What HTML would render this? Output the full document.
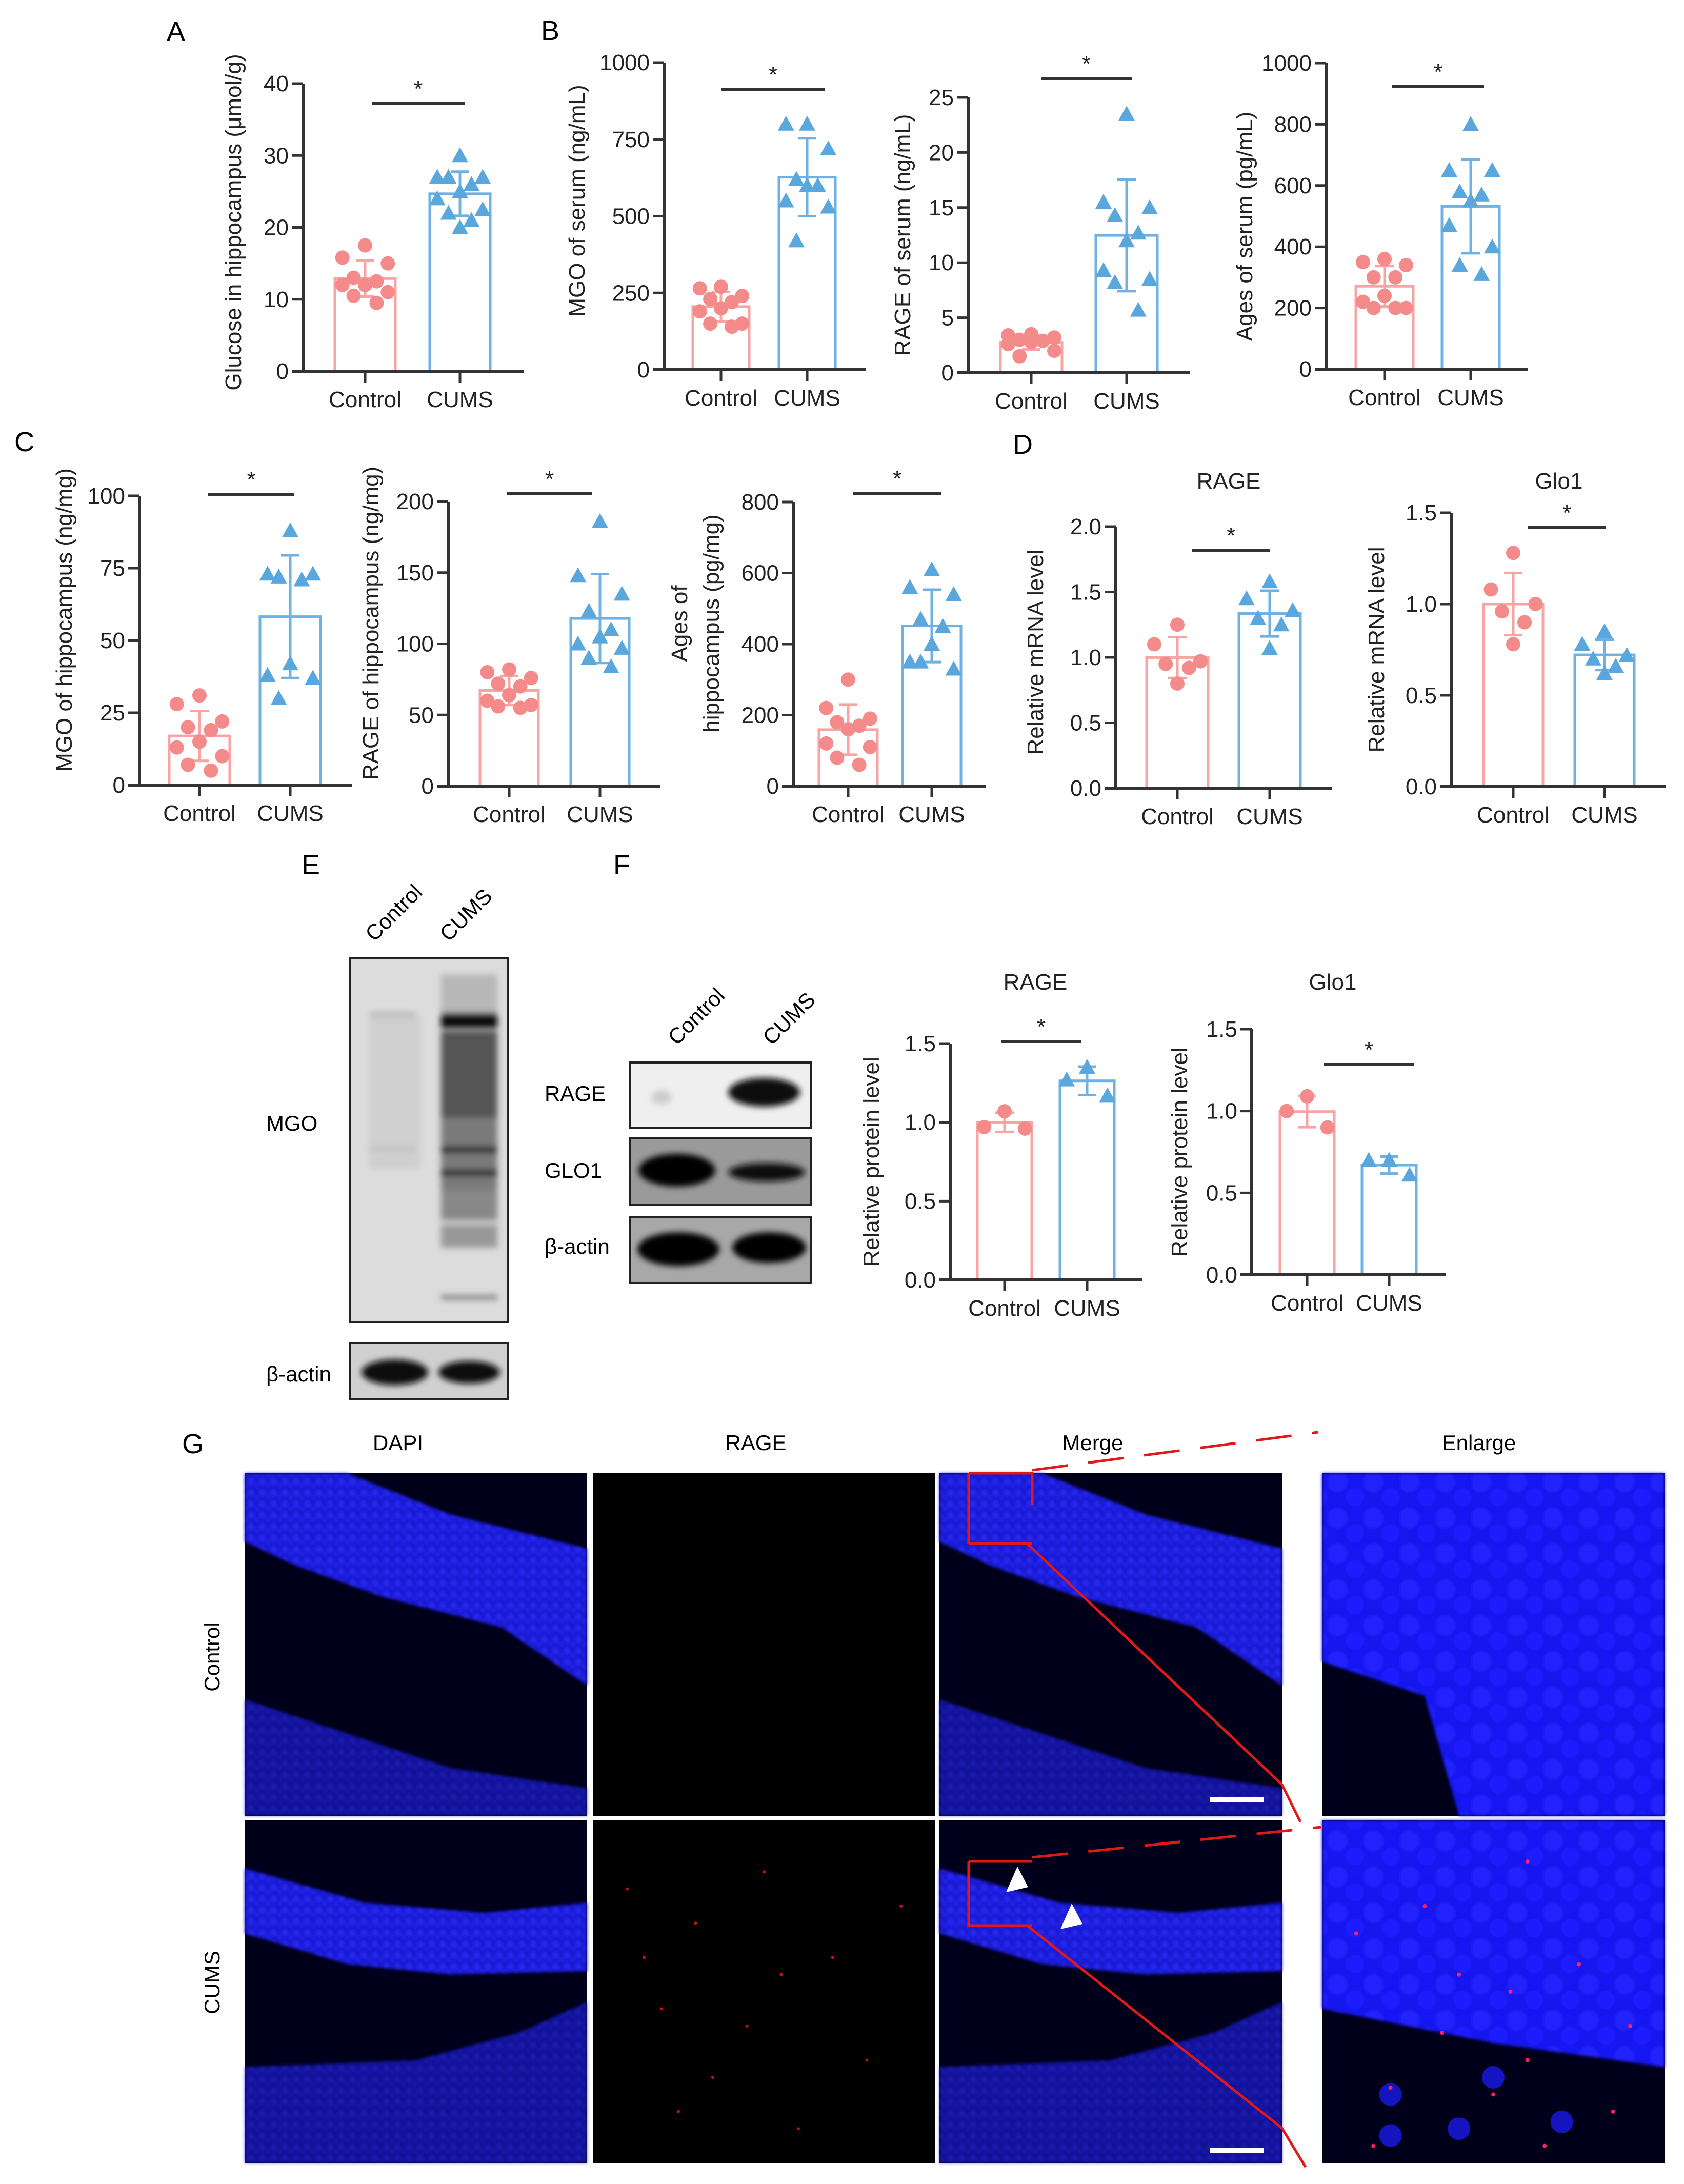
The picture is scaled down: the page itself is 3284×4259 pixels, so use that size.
<!DOCTYPE html>
<html><head><meta charset="utf-8">
<style>
html,body{margin:0;padding:0;background:#fff;}
svg{display:block;font-family:"Liberation Sans",Arial,sans-serif;}
</style></head>
<body>
<svg id="fig" xmlns="http://www.w3.org/2000/svg" width="3284" height="4259" viewBox="0 0 3284 4259">
<defs>
<filter id="blur6" x="-20%" y="-50%" width="140%" height="200%"><feGaussianBlur stdDeviation="6"/></filter>
<filter id="blur14" x="-20%" y="-20%" width="140%" height="140%"><feGaussianBlur stdDeviation="14"/></filter>
<filter id="blur3"><feGaussianBlur stdDeviation="3"/></filter>
<pattern id="nuclei" width="22" height="22" patternUnits="userSpaceOnUse"><rect width="22" height="22" fill="#1a1ae0"/><circle cx="6" cy="7" r="6" fill="#2a2aff"/><circle cx="17" cy="16" r="5" fill="#2222f5"/><rect x="12" y="0" width="3" height="5" fill="#0a0a90"/></pattern>
<pattern id="nucleiBig" width="70" height="70" patternUnits="userSpaceOnUse"><rect width="70" height="70" fill="#1212ee"/><circle cx="18" cy="20" r="20" fill="#2020ff"/><circle cx="52" cy="50" r="18" fill="#1c1cff"/><circle cx="55" cy="14" r="10" fill="#1818f8"/></pattern>
</defs>

<!-- Panel letters -->
<text x="325" y="80" font-size="54">A</text>
<text x="1055" y="78" font-size="54">B</text>
<text x="28" y="880" font-size="54">C</text>
<text x="1975" y="885" font-size="54">D</text>
<text x="588" y="1705" font-size="54">E</text>
<text x="1196" y="1705" font-size="54">F</text>
<text x="355" y="2834" font-size="54">G</text>

<g id="charts"></g>

<!-- Western blots E -->
<g>
  <text transform="translate(730,1838) rotate(-45)" font-size="42">Control</text>
  <text transform="translate(875,1838) rotate(-45)" font-size="42">CUMS</text>
  <rect x="682" y="1869" width="308" height="709" fill="#dcdcdc" stroke="#222" stroke-width="4"/>
  <g filter="url(#blur6)">
    <rect x="720" y="1980" width="100" height="300" fill="#cfcfcf"/>
    <rect x="860" y="1900" width="110" height="80" fill="#b8b8b8"/>
    <rect x="860" y="1975" width="110" height="30" fill="#111"/>
    <rect x="860" y="2010" width="110" height="170" fill="#555"/>
    <rect x="860" y="2180" width="110" height="140" fill="#7a7a7a"/>
    <rect x="860" y="2235" width="110" height="14" fill="#333"/>
    <rect x="860" y="2280" width="110" height="14" fill="#333"/>
    <rect x="860" y="2320" width="110" height="60" fill="#888"/>
    <rect x="860" y="2388" width="110" height="45" fill="#999"/>
    <rect x="860" y="2526" width="110" height="8" fill="#777"/>
    <rect x="720" y="1975" width="90" height="6" fill="#aaa"/>
    <rect x="720" y="2237" width="90" height="6" fill="#bbb"/>
  </g>
  <text x="519" y="2205" font-size="42">MGO</text>
  <rect x="682" y="2619" width="308" height="110" fill="#d0d0d0" stroke="#222" stroke-width="4"/>
  <g filter="url(#blur6)">
    <ellipse cx="770" cy="2676" rx="65" ry="25" fill="#080808"/>
    <ellipse cx="915" cy="2676" rx="60" ry="22" fill="#080808"/>
  </g>
  <text x="519" y="2694" font-size="42">β-actin</text>
</g>

<!-- Western blots F -->
<g>
  <text transform="translate(1320,2040) rotate(-45)" font-size="42">Control</text>
  <text transform="translate(1505,2040) rotate(-45)" font-size="42">CUMS</text>
  <rect x="1229" y="2072" width="352" height="128" fill="#efefef" stroke="#222" stroke-width="4"/>
  <g filter="url(#blur6)"><ellipse cx="1490" cy="2130" rx="70" ry="28" fill="#0a0a0a"/><ellipse cx="1290" cy="2140" rx="20" ry="14" fill="#ccc"/></g>
  <text x="1062" y="2147" font-size="42">RAGE</text>
  <rect x="1229" y="2220" width="352" height="129" fill="#9a9a9a" stroke="#222" stroke-width="4"/>
  <g filter="url(#blur6)"><ellipse cx="1320" cy="2282" rx="75" ry="32" fill="#050505"/><ellipse cx="1495" cy="2286" rx="75" ry="18" fill="#101010"/></g>
  <text x="1062" y="2297" font-size="42">GLO1</text>
  <rect x="1229" y="2373" width="352" height="129" fill="#a8a8a8" stroke="#222" stroke-width="4"/>
  <g filter="url(#blur6)"><ellipse cx="1323" cy="2436" rx="80" ry="33" fill="#050505"/><ellipse cx="1500" cy="2433" rx="72" ry="30" fill="#050505"/></g>
  <text x="1062" y="2445" font-size="42">β-actin</text>
</g>

<!-- Panel G -->
<g>
  <text x="776" y="2828" font-size="42" text-anchor="middle">DAPI</text>
  <text x="1474" y="2828" font-size="42" text-anchor="middle">RAGE</text>
  <text x="2131" y="2828" font-size="42" text-anchor="middle">Merge</text>
  <text x="2884" y="2828" font-size="42" text-anchor="middle">Enlarge</text>
  <text transform="translate(428,3231) rotate(-90)" font-size="42" text-anchor="middle">Control</text>
  <text transform="translate(428,3866) rotate(-90)" font-size="42" text-anchor="middle">CUMS</text>
  <g id="micro"></g>
  <!-- overlays -->
  <g fill="none" stroke="#e01818" stroke-width="5">
    <path d="M1889 2873 H2013 V2935 M1889 2873 V3010 M1889 3010 H2013"/>
    <path d="M2013 2867 L2570 2793" stroke-dasharray="70 40"/>
    <path d="M2003 3010 L2500 3480 L2536 3553"/>
    <path d="M1889 3630 H2013 M1889 3630 V3755 H2013"/>
    <path d="M2013 3622 L2576 3563" stroke-dasharray="70 40"/>
    <path d="M2003 3755 L2500 4150 L2546 4226"/>
  </g>
  <polygon points="1962,3690 1984,3640 2005,3680" fill="#fff"/>
  <polygon points="2068,3762 2090,3712 2111,3752" fill="#fff"/>
  <rect x="2359" y="3505" width="105" height="10" fill="#fff"/>
  <rect x="2359" y="4188" width="105" height="10" fill="#fff"/>
</g>
</svg>

<script>
// ---------- chart data ----------
const groupLabels = ["Control", "CUMS"];
const aCtrl = [17.5,15.8,15,13,12.5,12,12,11,10.5,9.5];
const aCums = [30,27,27,27,26,25,24,22.5,22,21,20];
const aTicks = [0,10,20,30,40];
const b1Ctrl = [270,265,240,230,220,200,190,150,150,140];
const b1Cums = [800,800,720,620,600,600,550,530,420];
const b1Ticks = [0,250,500,750,1000];
const b2Ctrl = [3.5,3.4,3.2,3.0,2.9,2.8,2.6,2.0,1.5];
const b2Cums = [23.5,15.5,15,14.3,12.7,12,9.3,8.5,8.2,5.7];
const b2Ticks = [0,5,10,15,20,25];
const b3Ctrl = [360,350,340,300,300,240,220,200,200,200];
const b3Cums = [800,650,650,580,570,550,470,400,340,310];
const b3Ticks = [0,200,400,600,800,1000];
const c1Ctrl = [31,28,22,20,19,15,13,10,7,5];
const c1Cums = [88,73,73,72,71,42,38,37,30];
const c1Ticks = [0,25,50,75,100];
const c2Ctrl = [82,80,76,72,70,64,60,57,56,55];
const c2Cums = [186,148,135,123,110,105,100,97,90,84];
const c2Ticks = [0,50,100,150,200];
const c3Ctrl = [300,220,190,180,170,160,120,110,80,60];
const c3Cums = [610,560,540,470,450,400,350,330,350];
const c3Ticks = [0,200,400,600,800];
const d1Ctrl = [1.25,1.1,0.97,0.95,0.92,0.80];
const d1Cums = [1.58,1.45,1.36,1.30,1.25,1.07];
const d1Ticks = ["0.0","0.5","1.0","1.5","2.0"];
const d2Ctrl = [1.28,1.08,1.0,0.96,0.90,0.78];
const d2Cums = [0.85,0.78,0.72,0.70,0.66,0.62];
const d2Ticks = ["0.0","0.5","1.0","1.5"];
const f1Ctrl = [1.07,0.97,0.96];
const f1Cums = [1.35,1.27,1.17];
const f1Ticks = ["0.0","0.5","1.0","1.5"];
const f2Ctrl = [1.09,1.0,0.9];
const f2Cums = [0.70,0.70,0.61];
const f2Ticks = ["0.0","0.5","1.0","1.5"];

const NS = "http://www.w3.org/2000/svg";
function mk(tag, attrs, parent) {
  const e = document.createElementNS(NS, tag);
  for (const k in attrs) e.setAttribute(k, attrs[k]);
  parent.appendChild(e);
  return e;
}
const mean = a => a.reduce((s,v)=>s+v,0)/a.length;
const sd = a => { const m = mean(a); return Math.sqrt(a.reduce((s,v)=>s+(v-m)*(v-m),0)/(a.length-1)); };

const CTRL_BAR = "#f9a3a3", CTRL_PT = "#f48a8a", CUMS_BAR = "#6fb1e3", CUMS_PT = "#5aa7de";

function chart(cfg, ctrl, cums, ticks) {
  const root = document.getElementById("charts");
  const g = mk("g", {}, root);
  
  
  const tickVals = ticks.map(Number);
  const maxV = tickVals[tickVals.length-1];
  const y = v => cfg.bottom - (v / maxV) * (cfg.bottom - cfg.top);
  const hw = cfg.hw;
  // bars
  [[ctrl, cfg.c0, CTRL_BAR, CTRL_PT, "control"], [cums, cfg.c1, CUMS_BAR, CUMS_PT, "cums"]].forEach(([vals, cx, bc, pc, nm]) => {
    const m = mean(vals), s = sd(vals);
    const bar = mk("rect", {x: cx-hw, y: y(m), width: hw*2, height: cfg.bottom - y(m), fill: "#fff", stroke: bc, "stroke-width": 5}, g);
    
    
    const eb = mk("path", {d: `M${cx} ${y(m+s)} V${y(m-s)} M${cx-18} ${y(m+s)} H${cx+18} M${cx-18} ${y(m-s)} H${cx+18}`, stroke: bc, "stroke-width": 5, fill: "none"}, g);
    
    
    const offs = [0, -0.75, 0.75, -0.38, 0.38, 0, -0.75, 0.75, -0.38, 0.38, 0];
    vals.forEach((v, i) => {
      const px = cx + offs[i % offs.length] * hw;
      const py = y(v);
      let p;
      if (nm === "control") p = mk("circle", {cx: px, cy: py, r: 14, fill: pc}, g);
      else p = mk("polygon", {points: `${px},${py-16} ${px-16},${py+13} ${px+16},${py+13}`, fill: pc}, g);
      
      
    });
  });
  // axes
  const ax = mk("path", {d: `M${cfg.ax} ${cfg.top} V${cfg.bottom} M${cfg.ax-22} ${cfg.bottom} H${cfg.xe}`, stroke: "#333", "stroke-width": 6, fill: "none"}, g);
  
  
  ticks.forEach(t => {
    const ty = y(Number(t));
    const tk = mk("line", {x1: cfg.ax-22, x2: cfg.ax, y1: ty, y2: ty, stroke: "#333", "stroke-width": 5}, g);
    
    
    const tl = mk("text", {x: cfg.ax-28, y: ty+15, "font-size": 44, "text-anchor": "end", fill: "#222"}, g);
    tl.textContent = t;
    
    
  });
  [cfg.c0, cfg.c1].forEach((cx, i) => {
    const tk = mk("line", {x1: cx, x2: cx, y1: cfg.bottom, y2: cfg.bottom+22, stroke: "#333", "stroke-width": 5}, g);
    
    
    const tl = mk("text", {x: cx, y: cfg.bottom+70, "font-size": 44, "text-anchor": "middle", fill: "#222"}, g);
    tl.textContent = groupLabels[i];
    
    
  });
  // y label
  const ymid = (cfg.top + cfg.bottom) / 2 + (cfg.ylOff || 0);
  cfg.ylabel.forEach((line, i) => {
    const yl = mk("text", {transform: `translate(${cfg.ylx + i*62},${ymid}) rotate(-90)`, "font-size": 44, "text-anchor": "middle", fill: "#222"}, g);
    yl.textContent = line;
    
    
  });
  // significance
  const sig = mk("line", {x1: cfg.s0, x2: cfg.s1, y1: cfg.sy, y2: cfg.sy, stroke: "#333", "stroke-width": 6}, g);
  
  
  const st = mk("text", {x: (cfg.s0+cfg.s1)/2, y: cfg.sy-14, "font-size": 44, "text-anchor": "middle", fill: "#222"}, g);
  st.textContent = "*";
  
  
  if (cfg.title) {
    const tt = mk("text", {x: cfg.tx, y: cfg.ty, "font-size": 44, "text-anchor": "middle", fill: "#222"}, g);
    tt.textContent = cfg.title;
    
    
  }
}

chart({name:"chart-a-glucose", ax:591, top:163, bottom:724, xe:1022, c0:712, c1:897, hw:59, s0:725, s1:906, sy:202, ylx:470, ylabel:["Glucose in hippocampus (μmol/g)"], ylOff:-10}, aCtrl, aCums, aTicks);
chart({name:"chart-b-mgo-serum", ax:1295, top:122, bottom:721, xe:1689, c0:1406, c1:1574, hw:55, s0:1407, s1:1608, sy:174, ylx:1140, ylabel:["MGO of serum (ng/mL)"], ylOff:-30}, b1Ctrl, b1Cums, b1Ticks);
chart({name:"chart-b-rage-serum", ax:1888, top:190, bottom:727, xe:2320, c0:2011, c1:2197, hw:60, s0:2030, s1:2207, sy:153, ylx:1775, ylabel:["RAGE of serum (ng/mL)"], ylOff:0}, b2Ctrl, b2Cums, b2Ticks);
chart({name:"chart-b-ages-serum", ax:2586, top:123, bottom:720, xe:2980, c0:2700, c1:2868, hw:56, s0:2715, s1:2894, sy:169, ylx:2442, ylabel:["Ages of serum (pg/mL)"], ylOff:20}, b3Ctrl, b3Cums, b3Ticks);
chart({name:"chart-c-mgo-hippocampus", ax:272, top:967, bottom:1531, xe:686, c0:389, c1:566, hw:59, s0:406, s1:574, sy:964, ylx:140, ylabel:["MGO of hippocampus (ng/mg)"], ylOff:-40}, c1Ctrl, c1Cums, c1Ticks);
chart({name:"chart-c-rage-hippocampus", ax:874, top:978, bottom:1533, xe:1288, c0:993, c1:1170, hw:57, s0:989, s1:1154, sy:963, ylx:738, ylabel:["RAGE of hippocampus (ng/mg)"], ylOff:-40}, c2Ctrl, c2Cums, c2Ticks);
chart({name:"chart-c-ages-hippocampus", ax:1547, top:979, bottom:1533, xe:1923, c0:1654, c1:1817, hw:57, s0:1663, s1:1836, sy:962, ylx:1340, ylabel:["Ages of","hippocampus (pg/mg)"], ylOff:-40}, c3Ctrl, c3Cums, c3Ticks);
chart({name:"chart-d-rage-mrna", ax:2176, top:1027, bottom:1537, xe:2597, c0:2296, c1:2476, hw:60, s0:2325, s1:2476, sy:1073, ylx:2034, ylabel:["Relative mRNA level"], ylOff:-10, title:"RAGE", tx:2396, ty:953}, d1Ctrl, d1Cums, d1Ticks);
chart({name:"chart-d-glo1-mrna", ax:2830, top:1000, bottom:1534, xe:3249, c0:2951, c1:3129, hw:58, s0:2980, s1:3131, sy:1029, ylx:2699, ylabel:["Relative mRNA level"], ylOff:0, title:"Glo1", tx:3040, ty:953}, d2Ctrl, d2Cums, d2Ticks);
chart({name:"chart-f-rage-protein", ax:1853, top:2035, bottom:2496, xe:2228, c0:1959, c1:2120, hw:53, s0:1952, s1:2109, sy:2031, ylx:1714, ylabel:["Relative protein level"], ylOff:0, title:"RAGE", tx:2019, ty:1930}, f1Ctrl, f1Cums, f1Ticks);
chart({name:"chart-f-glo1-protein", ax:2441, top:2007, bottom:2486, xe:2819, c0:2549, c1:2709, hw:53, s0:2581, s1:2758, sy:2076, ylx:2315, ylabel:["Relative protein level"], ylOff:0, title:"Glo1", tx:2599, ty:1930}, f2Ctrl, f2Cums, f2Ticks);

// ---------- microscopy ----------
const micro = document.getElementById("micro");
const cols = [477, 1156, 1832, 2578], colW = 668;
const rows = [2873, 3550], rowH = 668;
const ctrlBands = [
  [[0,0],[0.3,0],[0.6,0.12],[1,0.22],[1,0.62],[0.75,0.45],[0.4,0.36],[0.15,0.27],[0,0.2]],
  [[0,0.66],[0.3,0.76],[0.6,0.86],[1,0.92],[1,1],[0,1]]
];
const cumsBands = [
  [[0,0.14],[0.35,0.24],[0.7,0.27],[1,0.24],[1,0.44],[0.6,0.45],[0.3,0.42],[0,0.33]],
  [[0,0.72],[0.5,0.7],[0.8,0.62],[1,0.53],[1,1],[0,1]]
];
const names = ["dapi","rage","merge","enlarge"];
rows.forEach((ry, ri) => {
  cols.forEach((cx, ci) => {
    const g = mk("g", {}, micro);
    
    
    mk("rect", {x: cx, y: ry, width: colW, height: rowH, fill: ci === 1 ? "#000" : "#00001a"}, g);
    if (ci === 0 || ci === 2) {
      const bands = ri ? cumsBands : ctrlBands;
      bands.forEach((b, bi) => {
        const pts = b.map(([u,v]) => `${cx+u*colW},${ry+v*rowH}`).join(" ");
        mk("polygon", {points: pts, fill: "url(#nuclei)", opacity: bi === 0 ? 0.95 : 0.65, filter: "url(#blur3)"}, g);
      });
    }
    if (ci === 3) {
      if (ri === 0) {
        mk("polygon", {points: `${cx},${ry} ${cx+colW},${ry} ${cx+colW},${ry+rowH} ${cx+0.4*colW},${ry+rowH} ${cx+0.3*colW},${ry+0.65*rowH} ${cx},${ry+0.55*rowH}`, fill: "url(#nucleiBig)", filter: "url(#blur3)"}, g);
      } else {
        mk("polygon", {points: `${cx},${ry} ${cx+colW},${ry} ${cx+colW},${ry+0.72*rowH} ${cx+0.5*colW},${ry+0.65*rowH} ${cx},${ry+0.55*rowH}`, fill: "url(#nucleiBig)", filter: "url(#blur3)"}, g);
        [[0.2,0.8],[0.5,0.75],[0.2,0.92],[0.4,0.9],[0.7,0.88]].forEach(([u,v]) => mk("circle", {cx: cx+u*colW, cy: ry+v*rowH, r: 22, fill: "#1414c0"}, g));
        [[0.3,0.25],[0.6,0.12],[0.1,0.33],[0.4,0.45],[0.55,0.5],[0.75,0.42],[0.9,0.6],[0.35,0.62],[0.6,0.7],[0.2,0.78],[0.5,0.8],[0.85,0.85],[0.15,0.95],[0.65,0.95]].forEach(([u,v]) => mk("circle", {cx: cx+u*colW, cy: ry+v*rowH, r: 4, fill: "#ff2060"}, g));
      }
    }
    if (ri === 1 && ci === 1) {
      [[0.1,0.2],[0.3,0.3],[0.5,0.15],[0.7,0.4],[0.2,0.55],[0.45,0.6],[0.8,0.7],[0.25,0.85],[0.6,0.9],[0.9,0.25],[0.35,0.75],[0.55,0.45],[0.15,0.4]].forEach(([u,v]) => mk("circle", {cx: cx+u*colW, cy: ry+v*rowH, r: 3, fill: "#d01010"}, g));
    }
  });
});
</script>
</body></html>
